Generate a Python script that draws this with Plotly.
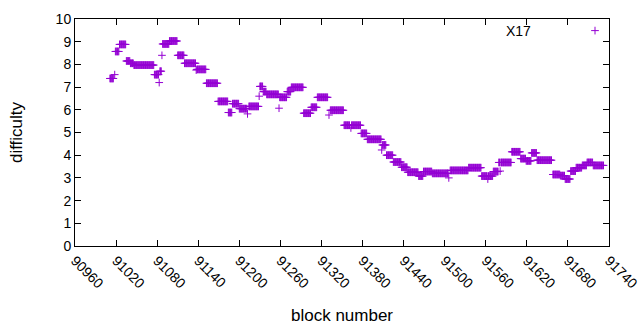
import plotly.graph_objects as go

# Difficulty runs: each run covers blocks seg_start..seg_end (inclusive) at seg_value
seg_start = [91011, 91018, 91019, 91025, 91035, 91041, 91046, 91076, 91083, 91084,
             91087, 91088, 91098, 91110, 91120, 91137, 91138, 91152, 91169, 91184,
             91190, 91200, 91212, 91214, 91229, 91230, 91235, 91240, 91258, 91259,
             91270, 91276, 91294, 91305, 91314, 91331, 91333, 91353, 91363, 91364,
             91378, 91387, 91408, 91409, 91415, 91425, 91437, 91446, 91462, 91469,
             91482, 91506, 91508, 91512, 91535, 91554, 91563, 91564, 91571, 91579,
             91581, 91582, 91598, 91611, 91619, 91627, 91635, 91658, 91669, 91676,
             91684, 91692, 91701, 91708, 91717]
seg_end = [91016, 91018, 91024, 91034, 91040, 91045, 91075, 91082, 91083, 91086,
           91087, 91097, 91109, 91119, 91136, 91137, 91151, 91168, 91183, 91189,
           91199, 91211, 91212, 91228, 91229, 91234, 91239, 91257, 91258, 91269,
           91275, 91293, 91304, 91313, 91329, 91331, 91352, 91361, 91363, 91377,
           91386, 91407, 91408, 91414, 91424, 91436, 91445, 91461, 91468, 91481,
           91505, 91506, 91511, 91534, 91553, 91562, 91563, 91570, 91578, 91580,
           91581, 91597, 91610, 91618, 91626, 91634, 91656, 91668, 91675, 91683,
           91691, 91700, 91707, 91716, 91732]
seg_value = [7.38, 7.55, 8.57, 8.88, 8.15, 8.05, 7.97, 7.55, 7.2, 7.7,
             8.4, 8.9, 9.03, 8.4, 8.05, 7.75, 7.78, 7.17, 6.37, 5.88,
             6.27, 6.05, 5.82, 6.15, 6.6, 7.03, 6.8, 6.68, 6.07, 6.55,
             6.8, 6.99, 5.85, 6.11, 6.55, 5.77, 5.98, 5.32, 5.2, 5.32,
             4.96, 4.7, 4.23, 4.45, 4.0, 3.7, 3.47, 3.25, 3.08, 3.28,
             3.2, 3.0, 3.33, 3.33, 3.45, 3.08, 2.95, 3.08, 3.28, 3.68,
             3.3, 3.68, 4.15, 3.85, 3.75, 4.1, 3.78, 3.15, 3.1, 2.95,
             3.3, 3.45, 3.55, 3.68, 3.55]
x_ticks = list(range(90960, 91741, 60))
y_ticks = list(range(0, 11))

blocks, diffs = [], []
for s, e, v in zip(seg_start, seg_end, seg_value):
    for b in range(s, e + 1):
        blocks.append(b)
        diffs.append(v)

FONT = "Liberation Sans"
COLOR = "#9400D3"
L, R, T, B = 75, 31, 19, 84
PW, PH = 640 - L - R, 330 - T - B

fig = go.Figure()
fig.add_trace(go.Scatter(
    x=blocks, y=diffs, mode="markers", showlegend=False, cliponaxis=False,
    marker=dict(symbol="cross-thin", size=5.5, color=COLOR,
                line=dict(width=1, color=COLOR)),
))
fig.add_trace(go.Scatter(
    x=[None], y=[None], mode="markers", name=" ", showlegend=True,
    marker=dict(symbol="cross-thin", size=5.5, color=COLOR,
                line=dict(width=1, color=COLOR)),
))

fig.update_layout(
    width=640, height=330,
    margin=dict(l=L, r=R, t=T, b=B, autoexpand=False),
    plot_bgcolor="white", paper_bgcolor="white",
    font=dict(family=FONT, size=14, color="black"),
    legend=dict(x=(595 - 20 - L) / PW, y=1 - (31 - T) / PH, xanchor="left",
                yanchor="middle", bgcolor="rgba(0,0,0,0)", borderwidth=0,
                font=dict(size=14)),
    annotations=[dict(text="X17", x=(533 - L) / PW, y=1 - (31 - T) / PH,
                      xref="paper", yref="paper", xanchor="right",
                      yanchor="middle", showarrow=False)],
)

fig.update_xaxes(
    range=[90960, 91740], tickvals=x_ticks, ticktext=[str(t) for t in x_ticks],
    tickangle=45, ticks="inside", ticklen=6, tickcolor="black",
    showline=True, linecolor="black", linewidth=1, mirror="allticks",
    showgrid=False, zeroline=False, automargin=False, ticklabeloverflow="allow",
    title=dict(text="block number", standoff=18),
)
fig.update_yaxes(
    range=[0, 10], tickvals=y_ticks, ticks="inside", ticklen=6, tickcolor="black",
    showline=True, linecolor="black", linewidth=1, mirror="allticks",
    showgrid=False, zeroline=False, automargin=False,
    title=dict(text="difficulty", standoff=28),
)

fig.write_html("out.html", config={"displayModeBar": False},
               post_script="document.body.style.margin='0';")
